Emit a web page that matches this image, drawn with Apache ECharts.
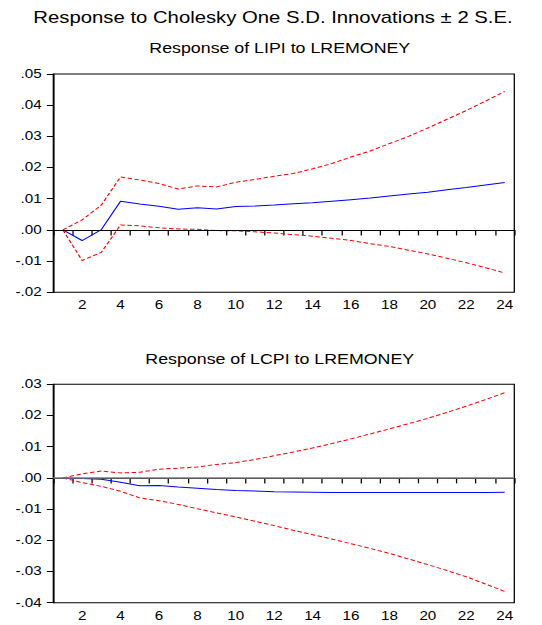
<!DOCTYPE html>
<html>
<head>
<meta charset="utf-8">
<title>Impulse responses</title>
<script src="https://cdn.jsdelivr.net/npm/echarts@6/dist/echarts.min.js"></script>
<style>
  html, body { margin: 0; padding: 0; background: #fff; }
  /* The chart is laid out narrow and widened horizontally so the
     lettering gets the broad look of the EViews export. */
  #chart { width: 426.77px; height: 625px; transform: scaleX(1.27); transform-origin: 0 0; }
</style>
</head>
<body>
<div id="chart"></div>
<script>
// Forecast horizon (periods)
const periods = ['1','2','3','4','5','6','7','8','9','10','11','12',
                 '13','14','15','16','17','18','19','20','21','22','23','24'];

// Response of LIPI to a one S.D. LREMONEY shock, with ±2 S.E. bands
const lipiResp  = [0, -0.0034, 0.0001, 0.0092, 0.0083, 0.0076, 0.0066, 0.0071, 0.0067, 0.0075, 0.0077, 0.0080,
                   0.0084, 0.0087, 0.0092, 0.0097, 0.0102, 0.0109, 0.0115, 0.0121, 0.0129, 0.0136, 0.0144, 0.0152];
const lipiUpper = [0, 0.0032, 0.0080, 0.0170, 0.0160, 0.0149, 0.0131, 0.0141, 0.0138, 0.0153, 0.0162, 0.0172,
                   0.0181, 0.0196, 0.0213, 0.0234, 0.0253, 0.0277, 0.0300, 0.0327, 0.0355, 0.0383, 0.0413, 0.0444];
const lipiLower = [0, -0.0098, -0.0072, 0.0016, 0.0013, 0.0007, 0.0003, 0.0002, -0.0002, -0.0003, -0.0006, -0.0010,
                   -0.0015, -0.0020, -0.0027, -0.0034, -0.0044, -0.0053, -0.0065, -0.0077, -0.0091, -0.0105, -0.0121, -0.0138];

// Response of LCPI to a one S.D. LREMONEY shock, with ±2 S.E. bands
const lcpiResp  = [0, -0.0002, -0.0004, -0.0014, -0.0025, -0.0024, -0.0029, -0.0033, -0.0037, -0.0040, -0.0042, -0.0044,
                   -0.0045, -0.0046, -0.0047, -0.0047, -0.0047, -0.0047, -0.0047, -0.0047, -0.0047, -0.0047, -0.0047, -0.0046];
const lcpiUpper = [0, 0.0013, 0.0022, 0.0016, 0.0018, 0.0028, 0.0031, 0.0035, 0.0043, 0.0049, 0.0059, 0.0071,
                   0.0083, 0.0096, 0.0110, 0.0125, 0.0141, 0.0157, 0.0174, 0.0191, 0.0210, 0.0230, 0.0251, 0.0273];
const lcpiLower = [0, -0.0015, -0.0027, -0.0043, -0.0064, -0.0073, -0.0085, -0.0099, -0.0112, -0.0125, -0.0139, -0.0153,
                   -0.0168, -0.0182, -0.0196, -0.0211, -0.0226, -0.0242, -0.0260, -0.0278, -0.0297, -0.0317, -0.0340, -0.0364];

// Axis ranges
const lipiRange = { min: -0.02, max: 0.05, step: 0.01 };
const lcpiRange = { min: -0.04, max: 0.03, step: 0.01 };

const mainTitle = 'Response to Cholesky One S.D. Innovations \u00b1 2 S.E.';
const lipiTitle = 'Response of LIPI to LREMONEY';
const lcpiTitle = 'Response of LCPI to LREMONEY';

// horizontal stretch applied by CSS; layout x-values are given in screen px
const SX = 1.27;
const px = v => v / SX;

const FONT = "'Liberation Sans', Arial, Helvetica, sans-serif";

function fmtTick(v) {
  return v.toFixed(2).replace('0.', '.');
}

function xAxisFor(gridIndex) {
  return {
    type: 'category',
    gridIndex: gridIndex,
    data: periods,
    boundaryGap: true,
    axisLine: { show: true, lineStyle: { color: '#000', width: 1 } },
    axisTick: { show: true, interval: 0, alignWithLabel: false, length: 5.5, lineStyle: { color: '#000' } },
    axisLabel: {
      interval: (i) => i % 2 === 1,
      margin: 7,
      color: '#000',
      fontFamily: FONT,
      fontSize: 12
    },
    splitLine: { show: false }
  };
}

function yAxisFor(gridIndex, r) {
  return {
    type: 'value',
    gridIndex: gridIndex,
    min: r.min,
    max: r.max,
    interval: r.step,
    axisLine: { show: true, lineStyle: { color: '#000', width: 1 } },
    axisTick: { show: true, length: px(6.5), lineStyle: { color: '#000' } },
    axisLabel: {
      margin: px(11.5),
      color: '#000',
      fontFamily: FONT,
      fontSize: 12,
      formatter: fmtTick
    },
    splitLine: { show: false }
  };
}

function respSeries(idx, data, zeroColor, zeroWidth) {
  return {
    type: 'line',
    xAxisIndex: idx,
    yAxisIndex: idx,
    data: data,
    symbol: 'none',
    lineStyle: { color: '#0000ff', width: 1 },
    z: 3,
    markLine: {
      silent: true,
      symbol: 'none',
      label: { show: false },
      lineStyle: { color: zeroColor, width: zeroWidth, type: 'solid' },
      data: [{ yAxis: 0 }],
      animation: false
    }
  };
}

function bandSeries(idx, data) {
  return {
    type: 'line',
    xAxisIndex: idx,
    yAxisIndex: idx,
    data: data,
    symbol: 'none',
    lineStyle: { color: '#ff0000', width: 1, type: [3.5, 2] },
    z: 2
  };
}

const chart = echarts.init(document.getElementById('chart'), null, { renderer: 'svg' });

chart.setOption({
  animation: false,
  backgroundColor: '#fff',
  title: [
    { text: mainTitle, left: px(27), top: 4,
      textStyle: { fontFamily: FONT, fontSize: 16, fontWeight: 'normal', color: '#000' } },
    { text: lipiTitle, left: px(143), top: 36.5,
      textStyle: { fontFamily: FONT, fontSize: 14, fontWeight: 'normal', color: '#000' } },
    { text: lcpiTitle, left: px(139), top: 347.5,
      textStyle: { fontFamily: FONT, fontSize: 14, fontWeight: 'normal', color: '#000' } }
  ],
  grid: [
    { left: px(53.3), top: 74, width: px(461), height: 218.3,
      show: true, borderColor: '#000', borderWidth: 1, backgroundColor: 'transparent' },
    { left: px(53.3), top: 384.3, width: px(461), height: 218.4,
      show: true, borderColor: '#000', borderWidth: 1, backgroundColor: 'transparent' }
  ],
  xAxis: [xAxisFor(0), xAxisFor(1)],
  yAxis: [yAxisFor(0, lipiRange), yAxisFor(1, lcpiRange)],
  series: [
    respSeries(0, lipiResp, '#000', 1),
    bandSeries(0, lipiUpper),
    bandSeries(0, lipiLower),
    respSeries(1, lcpiResp, '#7a7a7a', 1.5),
    bandSeries(1, lcpiUpper),
    bandSeries(1, lcpiLower)
  ]
});
</script>
</body>
</html>
